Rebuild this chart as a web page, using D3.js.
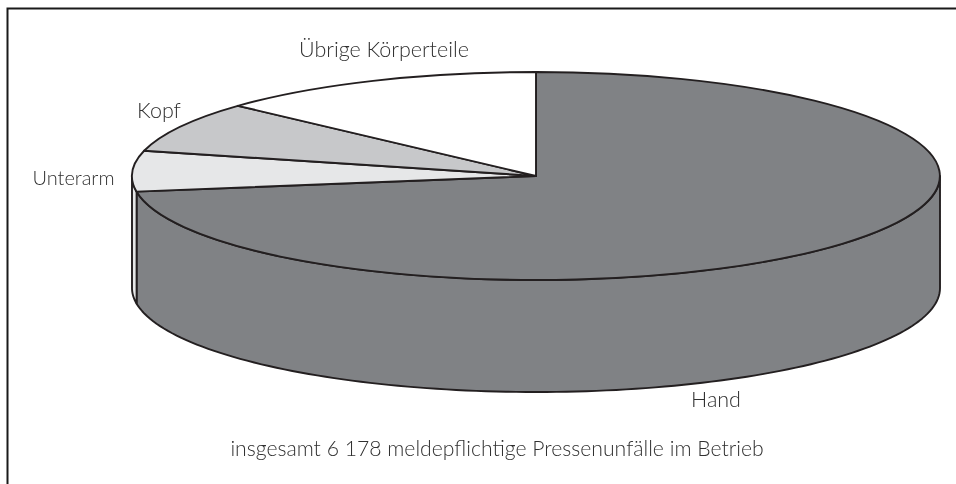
<!DOCTYPE html>
<html><head><meta charset="utf-8">
<script src="https://cdn.jsdelivr.net/npm/d3@7"></script>
<style>html,body{margin:0;padding:0;background:#fff}svg{display:block;will-change:transform}text{font-family:Lato,"Open Sans",sans-serif;font-weight:300;fill:#303030}</style>
</head><body><svg id="c" width="956" height="484"></svg>
<script>
const categories=["Hand","Unterarm","Kopf","Übrige Körperteile"];
const values=[72.6,6.3,7.9,13.2];
const fills=["#808285","#e6e7e8","#c7c8ca","#ffffff"];
const note="insgesamt 6 178 meldepflichtige Pressenunfälle im Betrieb";
const labelPos=[[716,406.5],[73.5,184.5],[159,118],[384,56.5]];
const labelSize=[21.5,20,21.5,21.5];
const cx=536,cy=176,rx=404,ry=104,depth=112,ink="#231f20",sw=1.9;
const svg=d3.select("#c");
svg.append("path").attr("d","M7.5,484V8.5H956").attr("fill","none").attr("stroke","#1a1a1a").attr("stroke-width",2);
const arcs=d3.pie().sort(null)(values);
const sx=d3.scaleLinear().domain([-1,1]).range([cx-rx,cx+rx]);
const sy=d3.scaleLinear().domain([-1,1]).range([cy-ry,cy+ry]);
const px=a=>sx(Math.sin(a)),py=a=>sy(-Math.cos(a));
const line=d3.line().x(d=>d[0]).y(d=>d[1]);
const vis0=Math.PI/2,vis1=Math.PI*1.5;
arcs.forEach((s,i)=>{
  const a0=Math.max(s.startAngle,vis0),a1=Math.min(s.endAngle,vis1);
  if(a1<=a0)return;
  const ts=d3.range(0,121).map(k=>a0+(a1-a0)*k/120);
  const top=ts.map(t=>[px(t),py(t)]);
  const bot=ts.map(t=>[px(t),py(t)+depth]).reverse();
  svg.append("path").attr("d",line(top.concat(bot))+"Z").attr("fill",fills[i]).attr("stroke",ink).attr("stroke-width",sw).attr("stroke-linejoin","round");
});
const arc=d3.arc().innerRadius(0).outerRadius(1);
svg.append("g").attr("transform",`translate(${cx},${cy}) scale(${rx/1},${ry/1})`)
 .selectAll("path").data(arcs).join("path").attr("d",arc)
 .attr("fill",(d,i)=>fills[i]).attr("stroke",ink).attr("stroke-width",sw)
 .attr("stroke-linejoin","round").attr("vector-effect","non-scaling-stroke");
const tg=svg.append("g");
tg.selectAll("text.l").data(categories).join("text").attr("class","l")
 .attr("x",(d,i)=>labelPos[i][0]).attr("y",(d,i)=>labelPos[i][1])
 .attr("text-anchor","middle").attr("font-size",(d,i)=>labelSize[i]).text(d=>d);
tg.append("text").attr("x",497).attr("y",456).attr("text-anchor","middle").attr("font-size",21.2).text(note);
</script></body></html>
